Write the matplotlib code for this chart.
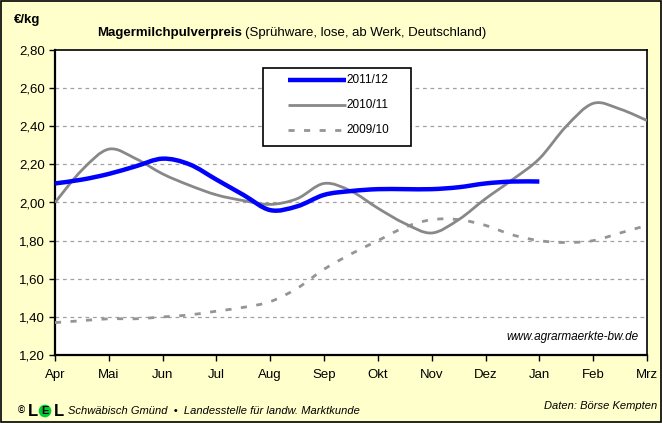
import matplotlib
matplotlib.use('Agg')
from matplotlib import pyplot as plt
from matplotlib.patches import Rectangle, PathPatch
from matplotlib.path import Path

plt.rcParams['font.family'] = ['Liberation Sans', 'DejaVu Sans']

months = ['Apr', 'Mai', 'Jun', 'Jul', 'Aug', 'Sep', 'Okt', 'Nov', 'Dez', 'Jan', 'Feb', 'Mrz']

# half-month positions (month index)
pos_1112 = [0, 0.5, 1, 1.5, 2, 2.5, 3, 3.5, 4, 4.5, 5, 5.5, 6, 6.5, 7, 7.5, 8, 8.5, 9]
price_1112 = [2.10, 2.12, 2.15, 2.19, 2.23, 2.20, 2.12, 2.04, 1.96, 1.98, 2.04, 2.06,
              2.07, 2.07, 2.07, 2.08, 2.10, 2.11, 2.11]

pos_full = [0, 0.5, 1, 1.5, 2, 2.5, 3, 3.5, 4, 4.5, 5, 5.5, 6, 6.5, 7, 7.5, 8, 8.5, 9,
            9.5, 10, 10.5, 11]
price_1011 = [2.00, 2.17, 2.28, 2.23, 2.15, 2.09, 2.04, 2.01, 1.99, 2.02, 2.10, 2.06,
              1.97, 1.89, 1.84, 1.91, 2.02, 2.12, 2.23, 2.40, 2.52, 2.49, 2.43]
price_0910 = [1.37, 1.38, 1.39, 1.39, 1.40, 1.41, 1.43, 1.45, 1.48, 1.55, 1.65, 1.73,
              1.80, 1.87, 1.91, 1.91, 1.88, 1.83, 1.80, 1.79, 1.80, 1.84, 1.88]

series_labels = ['2011/12', '2010/11', '2009/10']
y_ticks = [1.2, 1.4, 1.6, 1.8, 2.0, 2.2, 2.4, 2.6, 2.8]


def smooth_path(xs, ys):
    # Excel-like smoothed line: cubic Bezier segments through the points
    verts = [(xs[0], ys[0])]
    codes = [Path.MOVETO]
    n = len(xs)
    for i in range(n - 1):
        x0, y0 = (xs[i - 1], ys[i - 1]) if i > 0 else (xs[i], ys[i])
        x1, y1 = xs[i], ys[i]
        x2, y2 = xs[i + 1], ys[i + 1]
        x3, y3 = (xs[i + 2], ys[i + 2]) if i + 2 < n else (x2, y2)
        c1 = (x1 + (x2 - x0) / 6, y1 + (y2 - y0) / 6)
        c2 = (x2 - (x3 - x1) / 6, y2 - (y3 - y1) / 6)
        verts += [c1, c2, (x2, y2)]
        codes += [Path.CURVE4] * 3
    return Path(verts, codes)


def main():
    fig = plt.figure(figsize=(6.62, 4.23), dpi=100, facecolor='#FFFFCC')
    fig.patches.append(Rectangle((0.0015, 0.002), 0.997, 0.996, transform=fig.transFigure,
                                 fill=False, edgecolor='black', linewidth=1.2))
    ax = fig.add_axes([55 / 662, 1 - 355 / 423, 592 / 662, 305 / 423])
    ax.set_facecolor('white')

    styles = [
        dict(edgecolor='#0000FF', linewidth=3.2, linestyle='-'),
        dict(edgecolor='#888888', linewidth=2, linestyle='-'),
        dict(edgecolor='#959595', linewidth=2, linestyle=(0, (2.2, 3.4))),
    ]
    data = [(pos_1112, price_1112), (pos_full, price_1011), (pos_full, price_0910)]
    for (xs, ys), st, z in zip(data, styles, [5, 4, 3]):
        ax.add_patch(PathPatch(smooth_path(xs, ys), fill=False, capstyle='butt',
                               joinstyle='round', zorder=z, **st))

    ax.set_xlim(0, 11)
    ax.set_ylim(1.2, 2.8)
    ax.set_xticks(range(len(months)))
    ax.set_xticklabels(months, fontsize=9.5)
    ax.set_yticks(y_ticks)
    ax.set_yticklabels([f'{v:.2f}'.replace('.', ',') for v in y_ticks], fontsize=9.5)
    ax.tick_params(direction='out', length=4, width=1, color='black', pad=3)
    ax.tick_params(axis='x', pad=6)
    for y in y_ticks[1:-1]:
        ax.axhline(y, color='#A0A0A0', linewidth=0.9, linestyle=(0, (3, 3)), zorder=1)
    for sp in ax.spines.values():
        sp.set_color('black')
        sp.set_linewidth(1.2)
    ax.spines['left'].set_linewidth(1.6)
    ax.spines['bottom'].set_linewidth(1.6)

    # legend box drawn like the Excel one
    def axp(px, py):
        return ((px - 55) / 592, (355 - py) / 305)
    bx0, by0 = axp(263, 146)
    bx1, by1 = axp(411, 68)
    ax.add_patch(Rectangle((bx0, by0), bx1 - bx0, by1 - by0, transform=ax.transAxes,
                           facecolor='white', edgecolor='black', linewidth=1.2, zorder=10))
    for k, (lab, st) in enumerate(zip(series_labels, styles)):
        py = 80 + 25 * k
        (hx0, hy), (hx1, _) = axp(288, py), axp(346, py)
        ax.plot([hx0, hx1], [hy, hy], transform=ax.transAxes, color=st['edgecolor'],
                linewidth=st['linewidth'], linestyle=st['linestyle'], zorder=11,
                solid_capstyle='butt', dash_capstyle='butt')
        ax.text(axp(346, py)[0], hy, lab, transform=ax.transAxes, fontsize=8.5,
                va='center', ha='left', zorder=12)

    ax.text(0.985, 0.06, 'www.agrarmaerkte-bw.de', transform=ax.transAxes, ha='right',
            va='center', fontsize=8.5, style='italic')

    fig.text(14 / 662, 1 - 20 / 423, '€/kg', fontsize=9.5, fontweight='bold', va='center')
    t1 = fig.text(97 / 662, 1 - 33 / 423, 'Magermilchpulverpreis', fontsize=9.5,
                  fontweight='bold', va='center')
    fig.canvas.draw()
    bb = t1.get_window_extent()
    fig.text(bb.x1 / 662 + 3 / 662, 1 - 33 / 423, '(Sprühware, lose, ab Werk, Deutschland)',
             fontsize=9.5, va='center')

    # footer
    fig.text(18 / 662, 1 - 411 / 423, '©', fontsize=7, va='center', fontweight='bold')
    fig.text(28 / 662, 1 - 411 / 423, 'L', fontsize=12, va='center', fontweight='bold')
    fig.text(45 / 662, 1 - 411 / 423, 'E', fontsize=8, va='center', ha='center',
             fontweight='bold',
             bbox=dict(boxstyle='circle,pad=0.12', facecolor='#00CC33', edgecolor='none'))
    fig.text(54 / 662, 1 - 411 / 423, 'L', fontsize=12, va='center', fontweight='bold')
    fig.text(68 / 662, 1 - 411 / 423,
             'Schwäbisch Gmünd  •  Landesstelle für landw. Marktkunde',
             fontsize=8, va='center', style='italic')
    fig.text(657 / 662, 1 - 406 / 423, 'Daten: Börse Kempten', fontsize=8, va='center',
             ha='right', style='italic')

    fig.savefig('out.png', dpi=100, facecolor=fig.get_facecolor())


if __name__ == '__main__':
    main()
